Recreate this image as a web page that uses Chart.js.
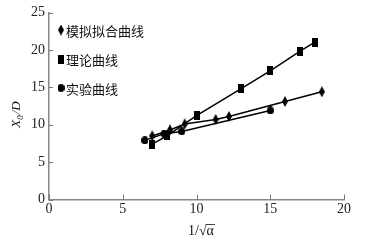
<!DOCTYPE html>
<html><head><meta charset="utf-8">
<script src="https://cdn.jsdelivr.net/npm/chart.js@4/dist/chart.umd.min.js"></script>
<style>html,body{margin:0;padding:0;background:#fff;}#wrap{width:390px;height:241px;}</style>
</head><body><div id="wrap"><canvas id="c" width="390" height="241"></canvas></div>
<script>
const xTicks = [0, 5, 10, 15, 20];
const yTicks = [0, 5, 10, 15, 20, 25];
const seriesNames = ['模拟拟合曲线', '理论曲线', '实验曲线'];
const fitX = [7, 8.2, 9.2, 11.3, 12.2, 16, 18.5];
const fitY = [8.5, 9.3, 10.1, 10.7, 11.1, 13.1, 14.4];
const theoryX = [7, 8, 10, 13, 15, 17, 18];
const theoryY = [7.4, 8.5, 11.2, 14.8, 17.2, 19.8, 21.0];
const expX = [6.5, 7.8, 9.0, 15.0];
const expY = [7.9, 8.8, 9.1, 11.9];

function mk(w, h, fn) {
  const c = document.createElement('canvas');
  c.width = w; c.height = h;
  const g = c.getContext('2d');
  g.fillStyle = '#000';
  fn(g, w, h);
  return c;
}
const diamond = mk(6, 11, (g, w, h) => { g.beginPath(); g.moveTo(w/2,0); g.lineTo(w,h/2); g.lineTo(w/2,h); g.lineTo(0,h/2); g.closePath(); g.fill(); });
const square = mk(6, 9, (g, w, h) => { g.fillRect(0,0,w,h); });
const circle = mk(7, 8, (g, w, h) => { g.beginPath(); g.ellipse(w/2,h/2,w/2,h/2,0,0,Math.PI*2); g.fill(); });
const styles = [diamond, square, circle];

const pts = (xs, ys) => xs.map((x, i) => ({x, y: ys[i]}));
const serif = "'Liberation Serif', 'DejaVu Serif', serif";

const deco = {
  id: 'deco',
  afterDraw(chart) {
    const ctx = chart.ctx, a = chart.chartArea;
    const xs = chart.scales.x, ys = chart.scales.y;
    ctx.save();
    ctx.strokeStyle = '#777'; ctx.lineWidth = 1;
    xTicks.forEach(v => { const p = Math.round(xs.getPixelForValue(v)) + 0.5; ctx.beginPath(); ctx.moveTo(p, a.bottom); ctx.lineTo(p, a.bottom - 5); ctx.stroke(); });
    yTicks.forEach(v => { const p = Math.round(ys.getPixelForValue(v)) + 0.5; ctx.beginPath(); ctx.moveTo(a.left, p); ctx.lineTo(a.left + 4, p); ctx.stroke(); });
    // legend
    const ly = [30, 59, 88];
    ctx.fillStyle = '#111';
    ctx.font = "13px 'Noto Sans CJK SC', sans-serif";
    ctx.textBaseline = 'middle';
    seriesNames.forEach((n, i) => {
      const s = styles[i];
      ctx.drawImage(s, 61 - s.width/2, ly[i] - s.height/2);
      ctx.fillText(n, 66, ly[i] + 1);
    });
    // x title: 1/√α
    ctx.font = "14px " + serif;
    ctx.textBaseline = 'alphabetic';
    ctx.textAlign = 'left';
    const t1 = '1/√', t2 = 'α';
    const w1 = ctx.measureText(t1).width, w2 = ctx.measureText(t2).width;
    const x0 = 201 - (w1 + w2) / 2, base = 235;
    ctx.fillText(t1, x0, base);
    ctx.fillText(t2, x0 + w1, base);
    ctx.strokeStyle = '#111'; ctx.lineWidth = 0.8;
    ctx.beginPath(); ctx.moveTo(x0 + w1 - 1, 224.5); ctx.lineTo(x0 + w1 + w2 + 1, 224.5); ctx.stroke();
    // y title: X0/D
    ctx.translate(20, 115);
    ctx.rotate(-Math.PI / 2);
    ctx.textAlign = 'left';
    ctx.font = "italic 13px " + serif;
    const a1 = 'X', a2 = '0', a3 = '/D';
    ctx.font = "italic 13px " + serif; const wa1 = ctx.measureText(a1).width;
    ctx.font = "italic 9px " + serif; const wa2 = ctx.measureText(a2).width;
    ctx.font = "italic 13px " + serif; const wa3 = ctx.measureText(a3).width;
    let sx = -(wa1 + wa2 + wa3) / 2;
    ctx.font = "italic 13px " + serif; ctx.fillText(a1, sx, 0); sx += wa1;
    ctx.font = "italic 9px " + serif; ctx.fillText(a2, sx, 3); sx += wa2 + 1;
    ctx.font = "italic 13px " + serif; ctx.fillText(a3, sx, 0);
    ctx.restore();
  }
};

const mkDs = (label, data, style) => ({
  label, data, showLine: true, borderColor: '#000', borderWidth: 1.5,
  pointStyle: style, pointRadius: 5, backgroundColor: '#000', fill: false, tension: 0
});

new Chart(document.getElementById('c'), {
  type: 'scatter',
  data: { datasets: [
    mkDs(seriesNames[0], pts(fitX, fitY), diamond),
    mkDs(seriesNames[1], pts(theoryX, theoryY), square),
    mkDs(seriesNames[2], pts(expX, expY), circle)
  ]},
  options: {
    responsive: false, animation: false,
    layout: { padding: { top: 12.5, right: 46, left: 0, bottom: 0 } },
    plugins: { legend: { display: false }, tooltip: { enabled: false } },
    scales: {
      x: { type: 'linear', position: 'bottom', min: 0, max: 20,
        afterBuildTicks: s => { s.ticks = xTicks.map(v => ({value: v})); },
        afterFit: s => { s.height = 41.5; },
        ticks: { font: { family: serif, size: 14 }, color: '#222', padding: 1 },
        grid: { display: false, drawTicks: false },
        border: { color: '#888', width: 1.5 } },
      y: { type: 'linear', min: 0, max: 25,
        afterBuildTicks: s => { s.ticks = yTicks.map(v => ({value: v})); },
        afterFit: s => { s.width = 49; },
        ticks: { font: { family: serif, size: 14 }, color: '#222', padding: 4 },
        grid: { display: false, drawTicks: false },
        border: { color: '#888', width: 1.5 } }
    }
  },
  plugins: [deco]
});
</script></body></html>
